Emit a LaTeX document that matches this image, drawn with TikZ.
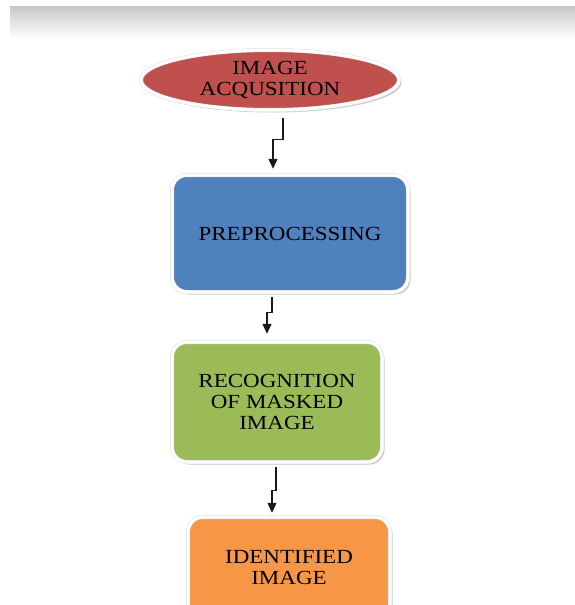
\documentclass[tikz,border=0pt]{standalone}
\usepackage{fontspec}
\setmainfont{Liberation Serif}[FakeStretch=1.15]
\usepackage{xcolor}
\usetikzlibrary{
  arrows.meta,
  calc,
  shapes.geometric,
  shadows
}
\definecolor{acqred}{HTML}{C0504D}
\definecolor{prepblue}{HTML}{4F81BD}
\definecolor{recoggreen}{HTML}{9BBB59}
\definecolor{identorange}{HTML}{F79646}
\tikzset{
  >=stealth,
  line cap=round,
  line join=round,
  shade/.style={drop shadow={shadow xshift=2.5pt, shadow yshift=-2.5pt, opacity=0.35, fill=black!60}},
  rim/.style={draw=black!12, line width=0.5pt, double=white, double distance=3pt},
  box/.style={rim, rounded corners=15pt, align=center,
    text=black, font=\fontsize{20}{21}\selectfont, shade},
  ovalbox/.style={rim, ellipse, align=center,
    text=black, font=\fontsize{20}{21}\selectfont, shade},
  flow/.style={-{Triangle[width=9pt,length=10pt]}, line width=1.3pt, black!90}
}

\begin{document}
\begin{tikzpicture}[x=1pt, y=-1pt]
  \clip (0,0) rectangle (575,605);
  \fill[white] (0,0) rectangle (575,605);
  % grey band at the top
  \foreach \i [evaluate=\i as \g using 22*(1-\i/32)] in {0,...,31}
    \fill[black!\g] (10,6+\i) rectangle (575,7.2+\i);

  \node[ovalbox, fill=acqred, minimum width=258pt, minimum height=60pt, inner sep=0pt] (acq) at (270,80) {IMAGE\\ACQUSITION};
  \node[box, fill=prepblue, minimum width=236pt, minimum height=117pt] (prep) at (290,233.5) {PREPROCESSING};
  \node[box, fill=recoggreen, minimum width=210pt, minimum height=120pt] (recog) at (277,402) {RECOGNITION\\OF MASKED\\IMAGE};
  \node[box, fill=identorange, minimum width=202pt, minimum height=102pt] (ident) at (289,568) {IDENTIFIED\\IMAGE};

  \draw[flow, shorten <=8pt, shorten >=6pt] ([xshift=13pt]acq.south) -- ++(0,29) -| ([xshift=-17pt]prep.north);
  \draw[flow, shorten <=5pt, shorten >=8pt] ([xshift=-18pt]prep.south) -- ++(0,20) -| ([xshift=-10pt]recog.north);
  \draw[flow, shorten <=5pt, shorten >=4pt] ([xshift=-1pt]recog.south) -- ++(0,28) -| ([xshift=-17pt]ident.north);
\end{tikzpicture}
\end{document}
